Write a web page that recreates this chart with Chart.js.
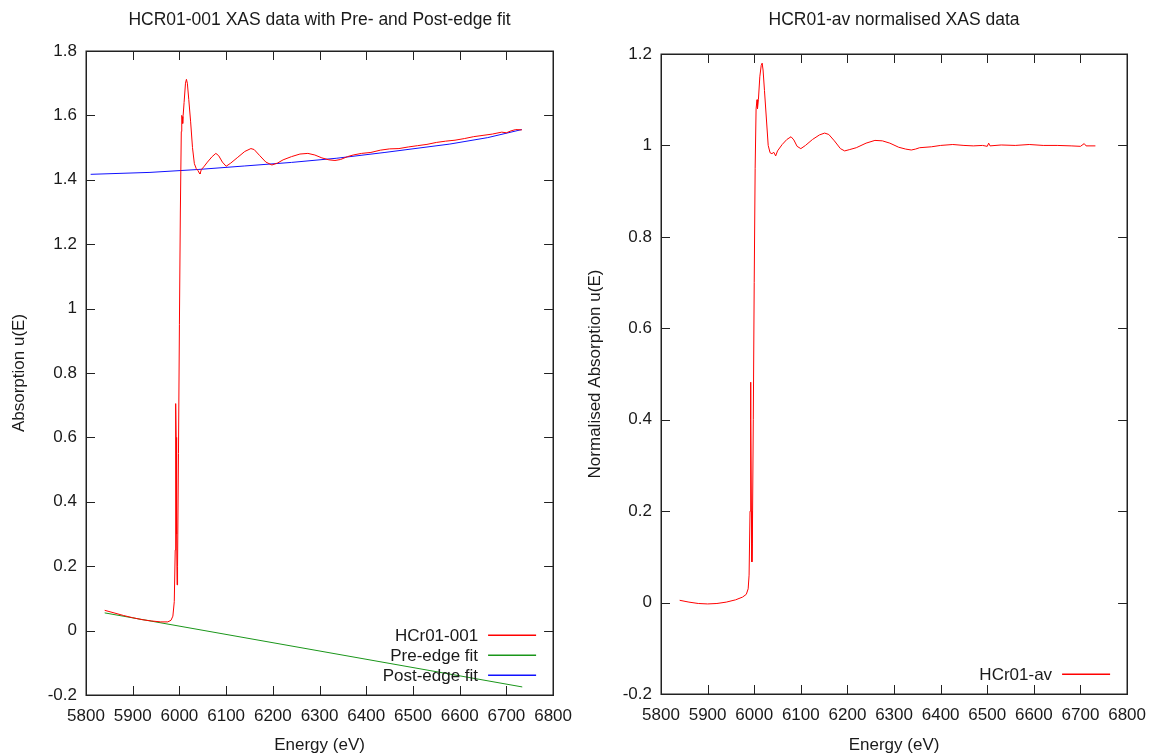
<!DOCTYPE html>
<html><head><meta charset="utf-8">
<script src="https://cdn.jsdelivr.net/npm/chart.js@4.4.0/dist/chart.umd.min.js"></script>
<style>
html,body{margin:0;padding:0;background:#fff;}
#wrap{position:relative;width:1149px;height:756px;overflow:hidden;}
.box{position:absolute;top:0;height:756px;}
</style></head><body>
<div id="wrap">
<div class="box" style="left:0;width:583px"><canvas id="c1" width="583" height="756"></canvas></div>
<div class="box" style="left:575px;width:582px"><canvas id="c2" width="582" height="756"></canvas></div>
</div>
<script>
// ---------- data ----------
const energyRaw = [5840,5860,5880,5900,5920,5940,5960,5975,5982,5986,5989,5991,5992,5993,5994,5995,5996,5998,6000,6002,6004,6005,6006,6007,6008,6010,6013,6015,6017,6020,6024,6028,6032,6036,6040,6042,6044,6047,6052,6060,6070,6078,6084,6092,6100,6110,6125,6140,6153,6160,6172,6185,6198,6210,6222,6240,6258,6275,6290,6305,6320,6333,6345,6360,6372,6390,6410,6430,6450,6470,6490,6510,6530,6550,6570,6590,6610,6630,6650,6670,6690,6700,6710,6720,6733];
const absorptionRaw = [0.063,0.055,0.047,0.040,0.034,0.030,0.027,0.027,0.032,0.045,0.09,0.25,0.705,0.60,0.30,0.142,0.20,0.55,0.95,1.30,1.55,1.60,1.595,1.575,1.60,1.64,1.70,1.712,1.70,1.65,1.58,1.50,1.45,1.435,1.428,1.422,1.418,1.432,1.44,1.455,1.472,1.482,1.475,1.455,1.442,1.452,1.47,1.488,1.497,1.494,1.475,1.455,1.446,1.452,1.462,1.472,1.48,1.482,1.477,1.468,1.462,1.46,1.463,1.472,1.477,1.482,1.485,1.492,1.496,1.497,1.502,1.506,1.51,1.516,1.52,1.523,1.528,1.534,1.538,1.542,1.548,1.546,1.552,1.556,1.555];

const energyPre = [5840, 6734];
const preEdgeFit = [0.055, -0.175];

const energyPost = [5810, 5937, 6040, 6140, 6240, 6337, 6440, 6579, 6660, 6733];
const postEdgeFit = [1.417, 1.423, 1.432, 1.443, 1.454, 1.467, 1.485, 1.511, 1.531, 1.556];

const energyNorm = [5840,5860,5880,5900,5920,5940,5960,5975,5983,5987,5989,5991,5992,5993,5994,5995,5996,5998,6000,6002,6004,6006,6007,6009,6012,6015,6017,6019,6022,6026,6030,6034,6038,6042,6046,6050,6060,6070,6079,6085,6092,6100,6110,6125,6140,6151,6160,6172,6185,6194,6205,6219,6240,6259,6275,6291,6310,6325,6337,6346,6355,6380,6400,6426,6450,6470,6490,6500,6503,6506,6530,6560,6590,6620,6650,6680,6700,6708,6712,6732];
const normalised = [0.005,0.001,-0.002,-0.003,-0.002,0.001,0.006,0.012,0.018,0.03,0.06,0.2,0.482,0.40,0.2,0.089,0.13,0.40,0.70,0.95,1.08,1.10,1.08,1.10,1.15,1.175,1.18,1.165,1.12,1.06,1.00,0.984,0.982,0.985,0.977,0.988,1.002,1.013,1.019,1.012,0.998,0.993,1.0,1.013,1.023,1.027,1.024,1.01,0.993,0.988,0.991,0.995,1.005,1.011,1.01,1.005,0.996,0.992,0.99,0.992,0.995,0.997,1.0,1.002,1.0,0.999,1.0,0.998,1.005,0.999,1.001,1.0,1.002,1.0,1.0,0.999,0.998,1.004,0.999,0.999];

const xTickValues = [5800,5900,6000,6100,6200,6300,6400,6500,6600,6700,6800];
const xTickLabels = ['5800','5900','6000','6100','6200','6300','6400','6500','6600','6700','6800'];
const yTickValuesLeft = [-0.2,0,0.2,0.4,0.6,0.8,1,1.2,1.4,1.6,1.8];
const yTickLabelsLeft = ['-0.2','0','0.2','0.4','0.6','0.8','1','1.2','1.4','1.6','1.8'];
const yTickValuesRight = [-0.2,0,0.2,0.4,0.6,0.8,1,1.2];
const yTickLabelsRight = ['-0.2','0','0.2','0.4','0.6','0.8','1','1.2'];

const seriesNamesLeft = ['HCr01-001','Pre-edge fit','Post-edge fit'];
const seriesColorsLeft = ['#ff0000','#1a961a','#1010ff'];
const seriesNamesRight = ['HCr01-av'];
const seriesColorsRight = ['#ff0000'];

// ---------- helpers ----------
const FONT = "'Liberation Sans', Arial, sans-serif";
const TXT = '#1a1a1a';
function pts(xs, ys){ return xs.map((x,i)=>({x:x, y:ys[i]})); }

const frameTicks = {
  id:'frameTicks',
  afterDatasetsDraw(chart){
    const {ctx, chartArea:a, scales} = chart;
    const L = 9;
    ctx.save();
    ctx.strokeStyle = '#222';
    ctx.lineWidth = 1;
    ctx.beginPath();
    scales.x.ticks.forEach(t=>{
      const px = Math.round(scales.x.getPixelForValue(t.value))+0.5;
      if (px < a.left+2 || px > a.right-2) return;
      ctx.moveTo(px, a.bottom); ctx.lineTo(px, a.bottom-L);
      ctx.moveTo(px, a.top); ctx.lineTo(px, a.top+L);
    });
    scales.y.ticks.forEach(t=>{
      const py = Math.round(scales.y.getPixelForValue(t.value))+0.5;
      if (py < a.top+2 || py > a.bottom-2) return;
      ctx.moveTo(a.left, py); ctx.lineTo(a.left+L, py);
      ctx.moveTo(a.right, py); ctx.lineTo(a.right-L, py);
    });
    ctx.stroke();
    ctx.lineWidth = 1.5;
    ctx.strokeRect(Math.round(a.left)+0.25, Math.round(a.top)+0.25, Math.round(a.right-a.left), Math.round(a.bottom-a.top));
    ctx.restore();
  }
};

function makeLegendPlugin(names, colors){
  return {
    id:'sideLegend',
    afterDraw(chart){
      const {ctx, chartArea:a} = chart;
      const n = names.length;
      ctx.save();
      ctx.font = '17px ' + FONT;
      ctx.textAlign = 'right';
      ctx.textBaseline = 'middle';
      for (let i = 0; i < n; i++){
        const y = Math.round(a.bottom - 20*(n - i));
        ctx.fillStyle = TXT;
        ctx.fillText(names[i], a.right - 75, y + 1);
        ctx.fillStyle = colors[i];
        ctx.fillRect(a.right - 65, y - 0.5, 48, 1.5);
      }
      ctx.restore();
    }
  };
}

const areaTitle = {
  id:'areaTitle',
  afterDraw(chart, args, opts){
    const {ctx, chartArea:a} = chart;
    ctx.save();
    ctx.font = '17.5px ' + FONT;
    ctx.fillStyle = TXT;
    ctx.textAlign = 'center';
    ctx.textBaseline = 'middle';
    ctx.fillText(opts.text, (a.left + a.right)/2, 20);
    ctx.restore();
  }
};

function makeOptions(cfg){
  return {
    responsive:false,
    animation:false,
    layout:{padding:{left:0, right:0, top:cfg.top, bottom:0}},
    plugins:{
      legend:{display:false},
      tooltip:{enabled:false},
      title:{display:false},
      areaTitle:{text:cfg.title}
    },
    scales:{
      x:{
        type:'linear', min:5800, max:6800,
        afterBuildTicks:s=>{ s.ticks = xTickValues.map(v=>({value:v})); },
        afterFit:s=>{ s.height = cfg.xHeight; },
        grid:{display:false, drawTicks:false},
        border:{display:false},
        ticks:{autoSkip:false, maxRotation:0, padding:11, color:TXT, font:{family:FONT, size:17},
               callback:(v,i)=>xTickLabels[i]},
        title:{display:true, text:'Energy (eV)', color:TXT, font:{family:FONT, size:17}, padding:{top:0, bottom:0}}
      },
      y:{
        type:'linear', min:cfg.yMin, max:cfg.yMax,
        afterBuildTicks:s=>{ s.ticks = cfg.yVals.map(v=>({value:v})); },
        afterFit:s=>{ s.width = 86; },
        grid:{display:false, drawTicks:false},
        border:{display:false},
        ticks:{autoSkip:false, padding:9, color:TXT, font:{family:FONT, size:17},
               callback:(v,i)=>cfg.yLabels[i]},
        title:{display:true, text:cfg.yTitle, color:TXT, font:{family:FONT, size:17}, padding:{top:cfg.yTitlePad, bottom:0}}
      }
    }
  };
}

const lineDs = (label, data, color)=>({label, data, borderColor:color, backgroundColor:color, borderWidth:1, pointRadius:0, tension:0, fill:false});

new Chart(document.getElementById('c1'), {
  type:'line',
  data:{datasets:[
    lineDs(seriesNamesLeft[0], pts(energyRaw, absorptionRaw), seriesColorsLeft[0]),
    lineDs(seriesNamesLeft[1], pts(energyPre, preEdgeFit), seriesColorsLeft[1]),
    lineDs(seriesNamesLeft[2], pts(energyPost, postEdgeFit), seriesColorsLeft[2])
  ]},
  options: makeOptions({title:'HCR01-001 XAS data with Pre- and Post-edge fit', top:51, xHeight:61,
    yMin:-0.2, yMax:1.8, yVals:yTickValuesLeft, yLabels:yTickLabelsLeft, yTitle:'Absorption u(E)', yTitlePad:9}),
  plugins:[frameTicks, makeLegendPlugin(seriesNamesLeft, seriesColorsLeft), areaTitle]
});

new Chart(document.getElementById('c2'), {
  type:'line',
  data:{datasets:[
    lineDs(seriesNamesRight[0], pts(energyNorm, normalised), seriesColorsRight[0])
  ]},
  options: makeOptions({title:'HCR01-av normalised XAS data', top:54, xHeight:62,
    yMin:-0.2, yMax:1.2, yVals:yTickValuesRight, yLabels:yTickLabelsRight, yTitle:'Normalised Absorption u(E)', yTitlePad:10}),
  plugins:[frameTicks, makeLegendPlugin(seriesNamesRight, seriesColorsRight), areaTitle]
});
</script>
</body></html>
